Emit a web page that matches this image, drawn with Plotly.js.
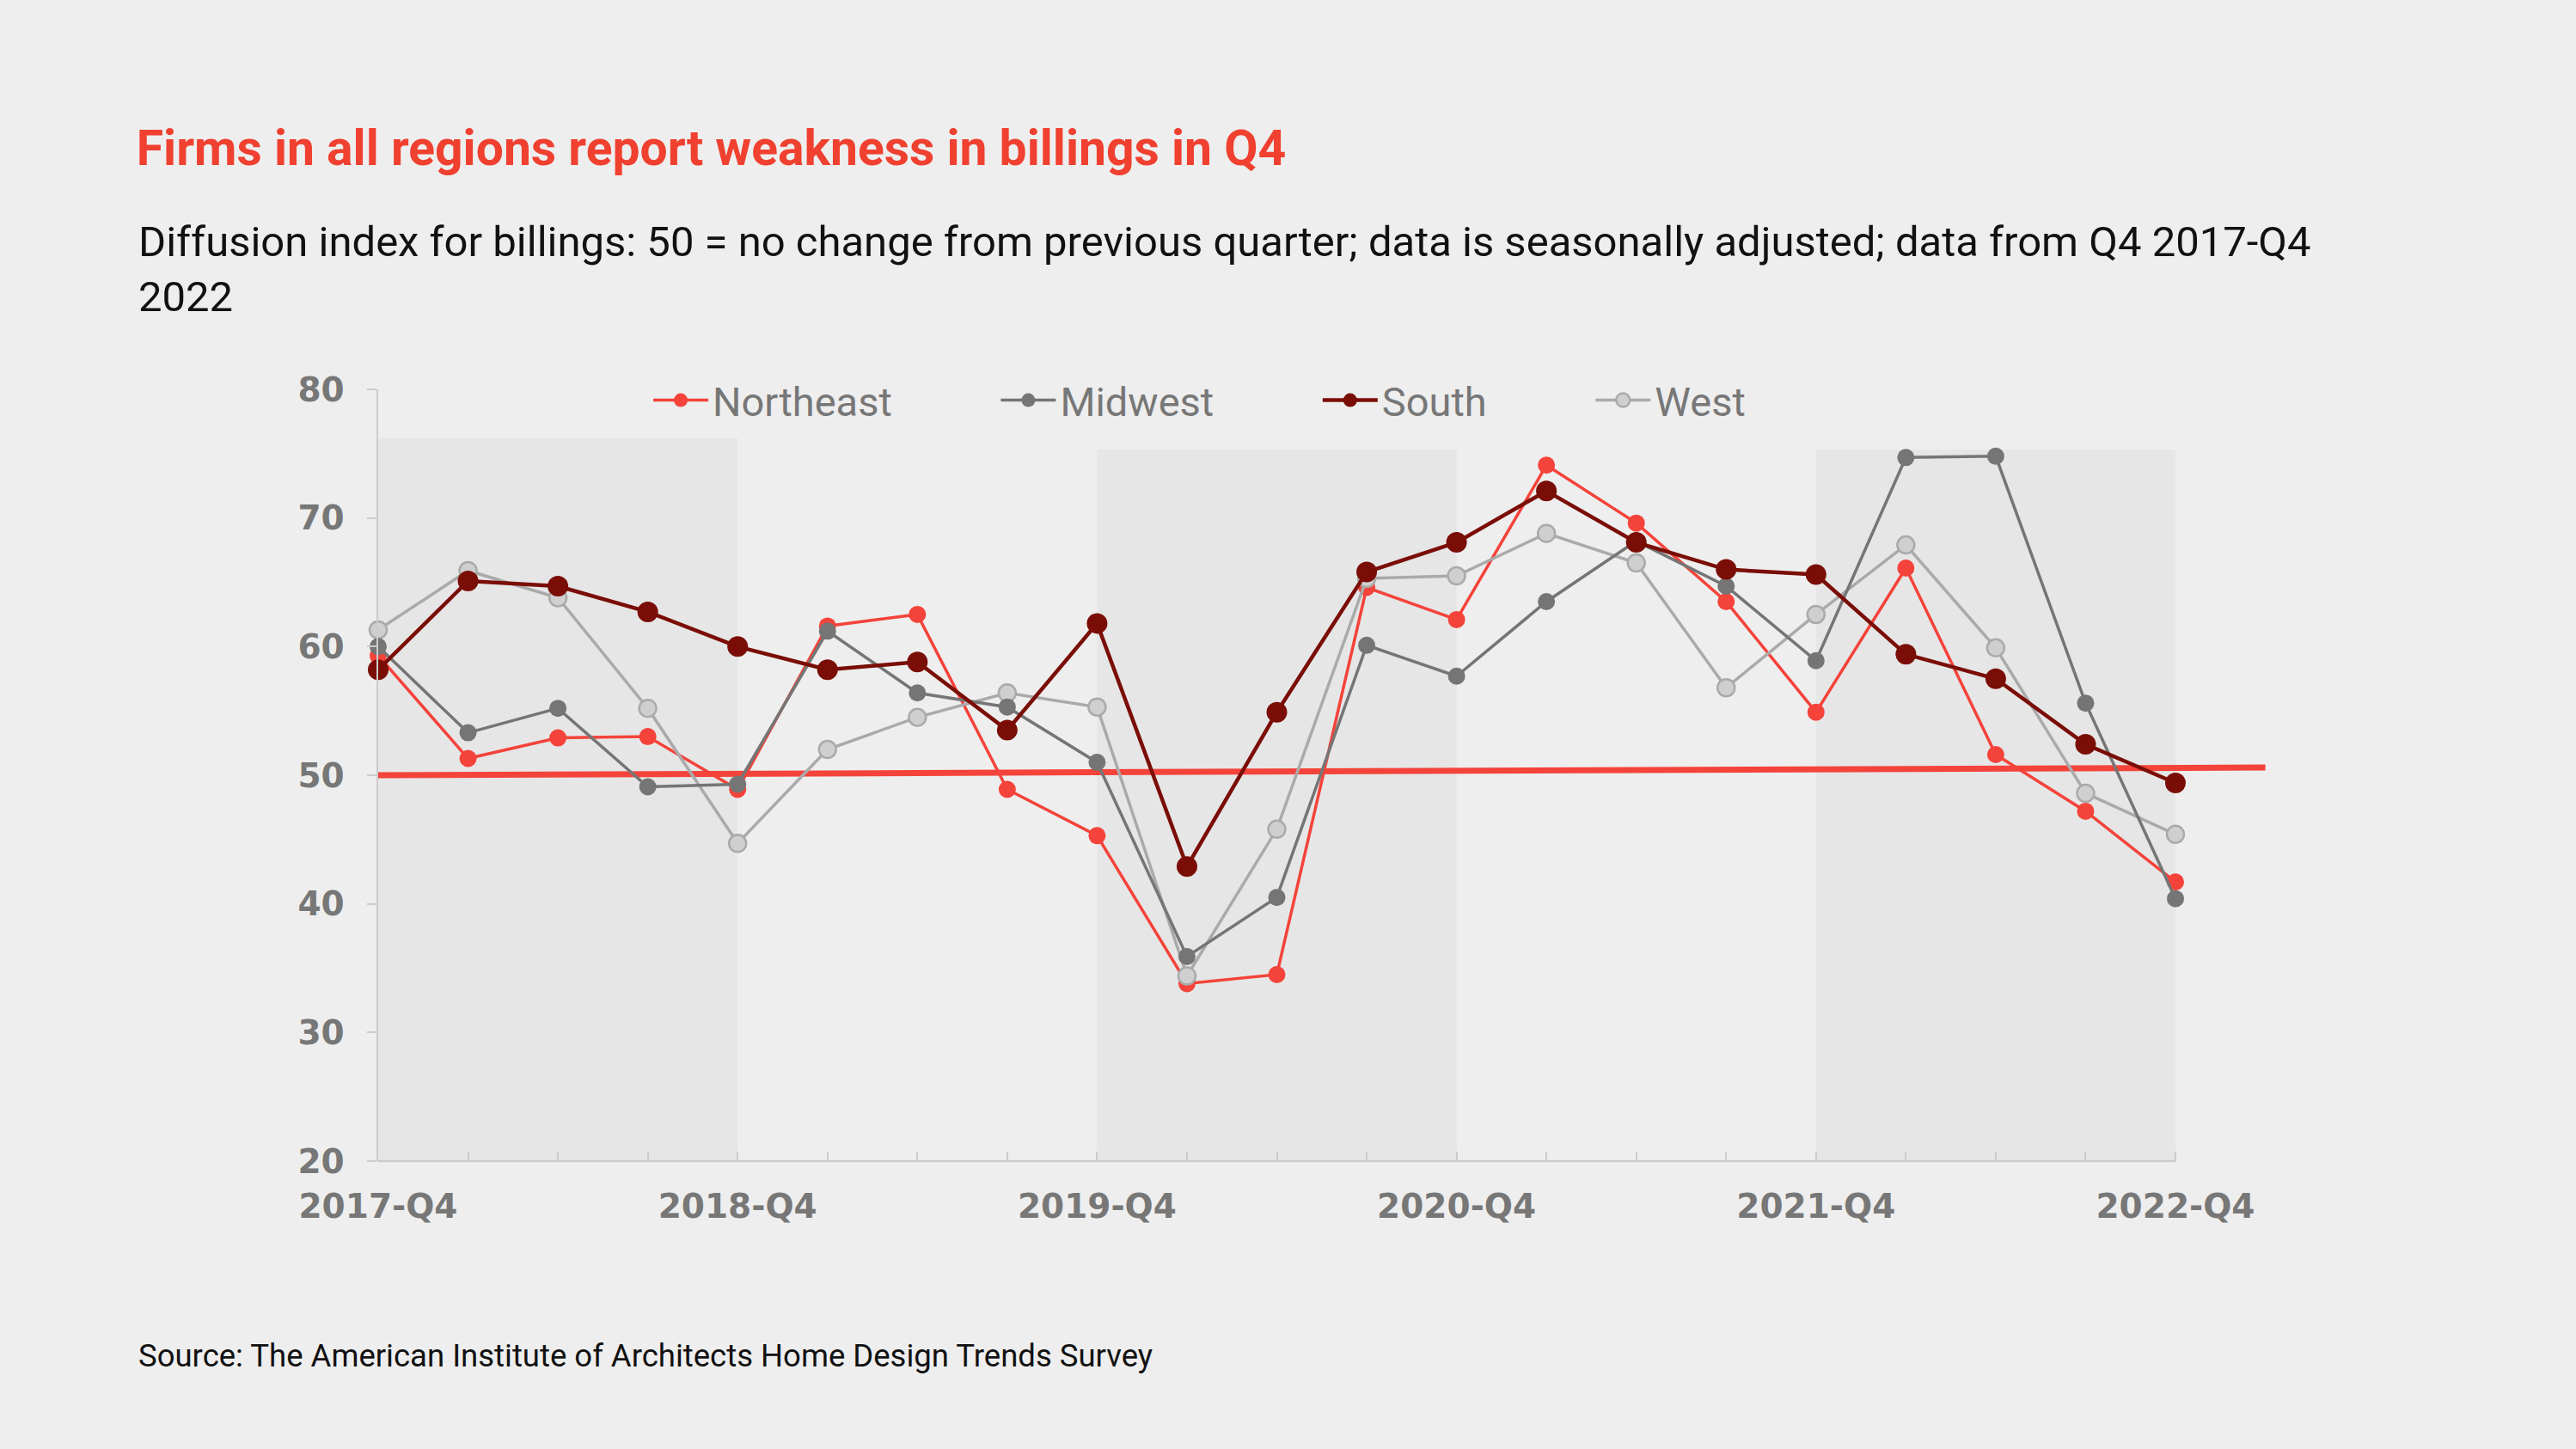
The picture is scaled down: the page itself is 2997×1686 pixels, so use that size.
<!DOCTYPE html>
<html><head><meta charset="utf-8">
<script src="https://cdn.plot.ly/plotly-3.0.1.min.js"></script>
<style>html,body{margin:0;padding:0;background:#eeeeee;}#chart{width:2997px;height:1686px;}</style>
</head><body><div id="chart"></div>
<script>
const quarters = ["2017-Q4","2018-Q1","2018-Q2","2018-Q3","2018-Q4","2019-Q1","2019-Q2","2019-Q3","2019-Q4","2020-Q1","2020-Q2","2020-Q3","2020-Q4","2021-Q1","2021-Q2","2021-Q3","2021-Q4","2022-Q1","2022-Q2","2022-Q3","2022-Q4"];
const northeast = [59.3,51.3,52.9,53.0,48.9,61.6,62.5,48.9,45.3,33.8,34.5,64.6,62.1,74.1,69.6,63.5,54.9,66.1,51.6,47.2,41.7];
const midwest   = [60.0,53.3,55.2,49.1,49.3,61.2,56.4,55.3,51.0,35.9,40.5,60.1,57.7,63.5,68.2,64.7,58.9,74.7,74.8,55.6,40.4];
const south     = [58.2,65.1,64.7,62.7,60.0,58.2,58.8,53.5,61.8,42.9,54.9,65.8,68.1,72.1,68.1,66.0,65.6,59.4,57.5,52.4,49.4];
const west      = [61.3,65.9,63.8,55.2,44.7,52.0,54.5,56.4,55.3,34.4,45.8,65.3,65.5,68.8,66.5,56.8,62.5,67.9,59.9,48.6,45.4];
const seriesNames = ["Northeast","Midwest","South","West"];
const refX = [0, 21];
const refY = [50, 50.6];
const bandStart = [0, 8, 16];
const bandEnd = [4, 12, 20];
const bandTop = [76.2, 75.3, 75.3];
const yTicks = [20,30,40,50,60,70,80];

const xIdx = quarters.map((q,i)=>i);
const xLabels = quarters.map(q => q.endsWith("Q4") ? q : "");
const pad = '\u00a0'.repeat(10);

function series(name, y, color, mcolor, mline, lw, ms, rank){
  return {type:'scatter', mode:'lines+markers', name:name + pad, x:xIdx, y:y, cliponaxis:false, legendrank:rank,
    line:{color:color, width:lw}, marker:{color:mcolor, size:ms, line:{color:mline, width:mline===mcolor?0:2.5}}};
}
const traces = [
  {type:'scatter', mode:'lines', x:refX, y:refY, showlegend:false, hoverinfo:'skip', line:{color:'#f4433a', width:7}},
  series(seriesNames[0], northeast, '#f4433a', '#f4433a', '#f4433a', 3.5, 20, 1),
  series(seriesNames[3], west, '#aaaaaa', '#cfcfcf', '#aaaaaa', 3.5, 20, 4),
  series(seriesNames[1], midwest, '#757575', '#757575', '#757575', 3.5, 20, 2),
  series(seriesNames[2], south, '#7a0e07', '#7a0e07', '#7a0e07', 4.5, 24, 3)
];
const shapes = bandStart.map((s,i)=>({type:'rect', xref:'x', yref:'y', x0:s, x1:bandEnd[i], y0:20, y1:bandTop[i], fillcolor:'#e6e6e6', line:{width:0}, layer:'below'}));
shapes.push({type:'line', xref:'x', yref:'paper', x0:0, x1:20, y0:0, y1:0, line:{color:'#cccccc', width:2.5}, layer:'above'});

const tickFont = {family:'DejaVu Sans', size:39, color:'#777777', weight:'bold'};
const layout = {
  width:2997, height:1686,
  paper_bgcolor:'#eeeeee', plot_bgcolor:'rgba(0,0,0,0)',
  margin:{l:440, r:351, t:453, b:335, pad:0},
  title:{text:'Firms in all regions report weakness in billings in Q4', xref:'container', yref:'container', x:0.053, xanchor:'left', y:0.898, yanchor:'middle',
    font:{family:'Roboto', size:57, color:'#f0402f', weight:'bold'}},
  xaxis:{range:[0,21.1], tickmode:'array', tickvals:xIdx, ticktext:xLabels, ticks:'inside', ticklen:11, tickwidth:2, tickcolor:'#cccccc',
    showline:false, showgrid:false, zeroline:false, tickfont:tickFont, ticklabelstandoff:26},
  yaxis:{range:[20,80], tickmode:'array', tickvals:yTicks, ticks:'outside', ticklen:11, tickwidth:2, tickcolor:'#cccccc',
    showline:true, linecolor:'#cccccc', linewidth:2.5, showgrid:false, zeroline:false, tickfont:tickFont, ticklabelstandoff:18},
  legend:{orientation:'h', x:0.1428, xanchor:'left', y:0.9855, yanchor:'middle', itemwidth:64, font:{family:'Roboto', size:47, color:'#777777'}, bgcolor:'rgba(0,0,0,0)', traceorder:'normal'},
  shapes:shapes,
  annotations:[
    {text:'Diffusion index for billings: 50 = no change from previous quarter; data is seasonally adjusted; data from Q4 2017-Q4<br>2022', xref:'paper', yref:'paper', x:-0.1274, y:1.1553, xanchor:'left', yanchor:'middle', align:'left', showarrow:false,
      font:{family:'Roboto', size:49, color:'#111111'}},
    {text:'Source: The American Institute of Architects Home Design Trends Survey', xref:'paper', yref:'paper', x:-0.1274, y:-0.2517, xanchor:'left', yanchor:'middle', align:'left', showarrow:false,
      font:{family:'Roboto', size:36.5, color:'#111111'}}
  ],
  hovermode:false
};
Plotly.newPlot('chart', traces, layout, {displayModeBar:false, staticPlot:true});
</script></body></html>
